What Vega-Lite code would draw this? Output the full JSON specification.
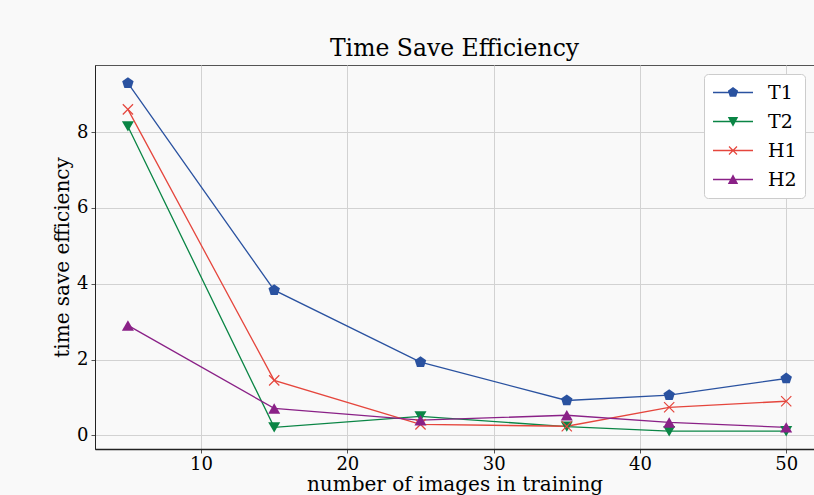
{
  "$schema": "https://vega.github.io/schema/vega-lite/v6.json",
  "width": 719,
  "height": 384,
  "autosize": {"type": "none"},
  "padding": {"left": 95, "top": 65, "right": 0, "bottom": 46},
  "background": "#f9f9f9",
  "title": {
    "text": "Time Save Efficiency",
    "font": "DejaVu Serif",
    "fontSize": 23.5,
    "fontWeight": "normal",
    "color": "#000000",
    "offset": 5
  },
  "config": {
    "view": {"stroke": "#555555", "strokeWidth": 1},
    "axis": {
      "labelFont": "DejaVu Serif",
      "labelFontSize": 18,
      "labelColor": "#000000",
      "titleFont": "DejaVu Serif",
      "titleFontSize": 20,
      "titleFontWeight": "normal",
      "titleColor": "#000000",
      "gridColor": "#d2d2d2",
      "gridWidth": 1,
      "tickColor": "#555555",
      "tickSize": 4,
      "domainColor": "#222222"
    },
    "legend": {
      "orient": "top-right",
      "offset": 9,
      "fillColor": "#ffffff",
      "strokeColor": "#cccccc",
      "cornerRadius": 4,
      "padding": 8,
      "symbolSize": 1600,
      "labelOffset": 14,
      "rowPadding": 8,
      "clipHeight": 21,
      "labelFont": "DejaVu Serif",
      "labelFontSize": 19,
      "labelColor": "#000000"
    }
  },
  "data": {
    "values": [
      {"series": "T1", "x": 5, "y": 9.29},
      {"series": "T1", "x": 15, "y": 3.83},
      {"series": "T1", "x": 25, "y": 1.93},
      {"series": "T1", "x": 35, "y": 0.92},
      {"series": "T1", "x": 42, "y": 1.06},
      {"series": "T1", "x": 50, "y": 1.5},
      {"series": "T2", "x": 5, "y": 8.15},
      {"series": "T2", "x": 15, "y": 0.21},
      {"series": "T2", "x": 25, "y": 0.5},
      {"series": "T2", "x": 35, "y": 0.23},
      {"series": "T2", "x": 42, "y": 0.11},
      {"series": "T2", "x": 50, "y": 0.11},
      {"series": "H1", "x": 5, "y": 8.6},
      {"series": "H1", "x": 15, "y": 1.45},
      {"series": "H1", "x": 25, "y": 0.29},
      {"series": "H1", "x": 35, "y": 0.24},
      {"series": "H1", "x": 42, "y": 0.74},
      {"series": "H1", "x": 50, "y": 0.9},
      {"series": "H2", "x": 5, "y": 2.9},
      {"series": "H2", "x": 15, "y": 0.71},
      {"series": "H2", "x": 25, "y": 0.4},
      {"series": "H2", "x": 35, "y": 0.53},
      {"series": "H2", "x": 42, "y": 0.34},
      {"series": "H2", "x": 50, "y": 0.21}
    ]
  },
  "encoding": {
    "x": {
      "field": "x",
      "type": "quantitative",
      "scale": {"domain": [2.75, 51.9], "nice": false, "zero": false},
      "axis": {
        "values": [10, 20, 30, 40, 50],
        "title": "number of images in training",
        "labelPadding": 2,
        "titlePadding": 1,
        "domainWidth": 1.5,
        "grid": true
      }
    },
    "y": {
      "field": "y",
      "type": "quantitative",
      "scale": {"domain": [-0.36, 9.77], "nice": false, "zero": false},
      "axis": {
        "values": [0, 2, 4, 6, 8],
        "title": "time save efficiency",
        "labelPadding": 3,
        "titlePadding": 4,
        "grid": true
      }
    }
  },
  "resolve": {
    "scale": {"shape": "independent"},
    "legend": {"color": "independent", "shape": "independent"}
  },
  "layer": [
    {
      "mark": {"type": "line", "strokeWidth": 1.3, "clip": true},
      "encoding": {
        "color": {
          "field": "series",
          "type": "nominal",
          "scale": {"domain": ["T1", "T2", "H1", "H2"], "range": ["#2a52a0", "#0a8545", "#e5463d", "#8a2187"]},
          "legend": null
        }
      }
    },
    {
      "mark": {"type": "point", "filled": true, "size": 145, "opacity": 1, "clip": true},
      "encoding": {
        "color": {
          "field": "series",
          "type": "nominal",
          "scale": {"domain": ["T1", "T2", "H1", "H2"], "range": ["#2a52a0", "#0a8545", "#e5463d", "#8a2187"]},
          "legend": null
        },
        "shape": {
          "field": "series",
          "type": "nominal",
          "scale": {
            "domain": ["T1", "T2", "H1", "H2"],
            "range": [
              "M0,-1L0.951,-0.309L0.588,0.809L-0.588,0.809L-0.951,-0.309Z",
              "triangle-down",
              "M-0.779,-0.921L0.921,0.779L0.779,0.921L-0.921,-0.779ZM0.921,-0.779L-0.779,0.921L-0.921,0.779L0.779,-0.921Z",
              "triangle-up"
            ]
          },
          "legend": null
        }
      }
    },
    {
      "transform": [{"filter": "datum.x < 0"}],
      "mark": {"type": "point", "filled": true, "opacity": 1},
      "encoding": {
        "color": {
          "field": "series",
          "type": "nominal",
          "scale": {"domain": ["T1", "T2", "H1", "H2"], "range": ["#2a52a0", "#0a8545", "#e5463d", "#8a2187"]},
          "legend": {"title": null}
        },
        "shape": {
          "field": "series",
          "type": "nominal",
          "scale": {
            "domain": ["T1", "T2", "H1", "H2"],
            "range": [
              "M-1,-0.035H1V0.035H-1ZM0,-0.27L0.2568,-0.0834L0.1587,0.2184L-0.1587,0.2184L-0.2568,-0.0834Z",
              "M-1,-0.035H1V0.035H-1ZM-0.26,-0.23L0.26,-0.23L0,0.26Z",
              "M-1,-0.035H1V0.035H-1ZM-0.179,-0.221L0.221,0.179L0.179,0.221L-0.221,-0.179ZM0.221,-0.179L-0.179,0.221L-0.221,0.179L0.179,-0.221Z",
              "M-1,-0.035H1V0.035H-1ZM0,-0.26L0.26,0.23L-0.26,0.23Z"
            ]
          },
          "legend": {"title": null}
        }
      }
    }
  ]
}
